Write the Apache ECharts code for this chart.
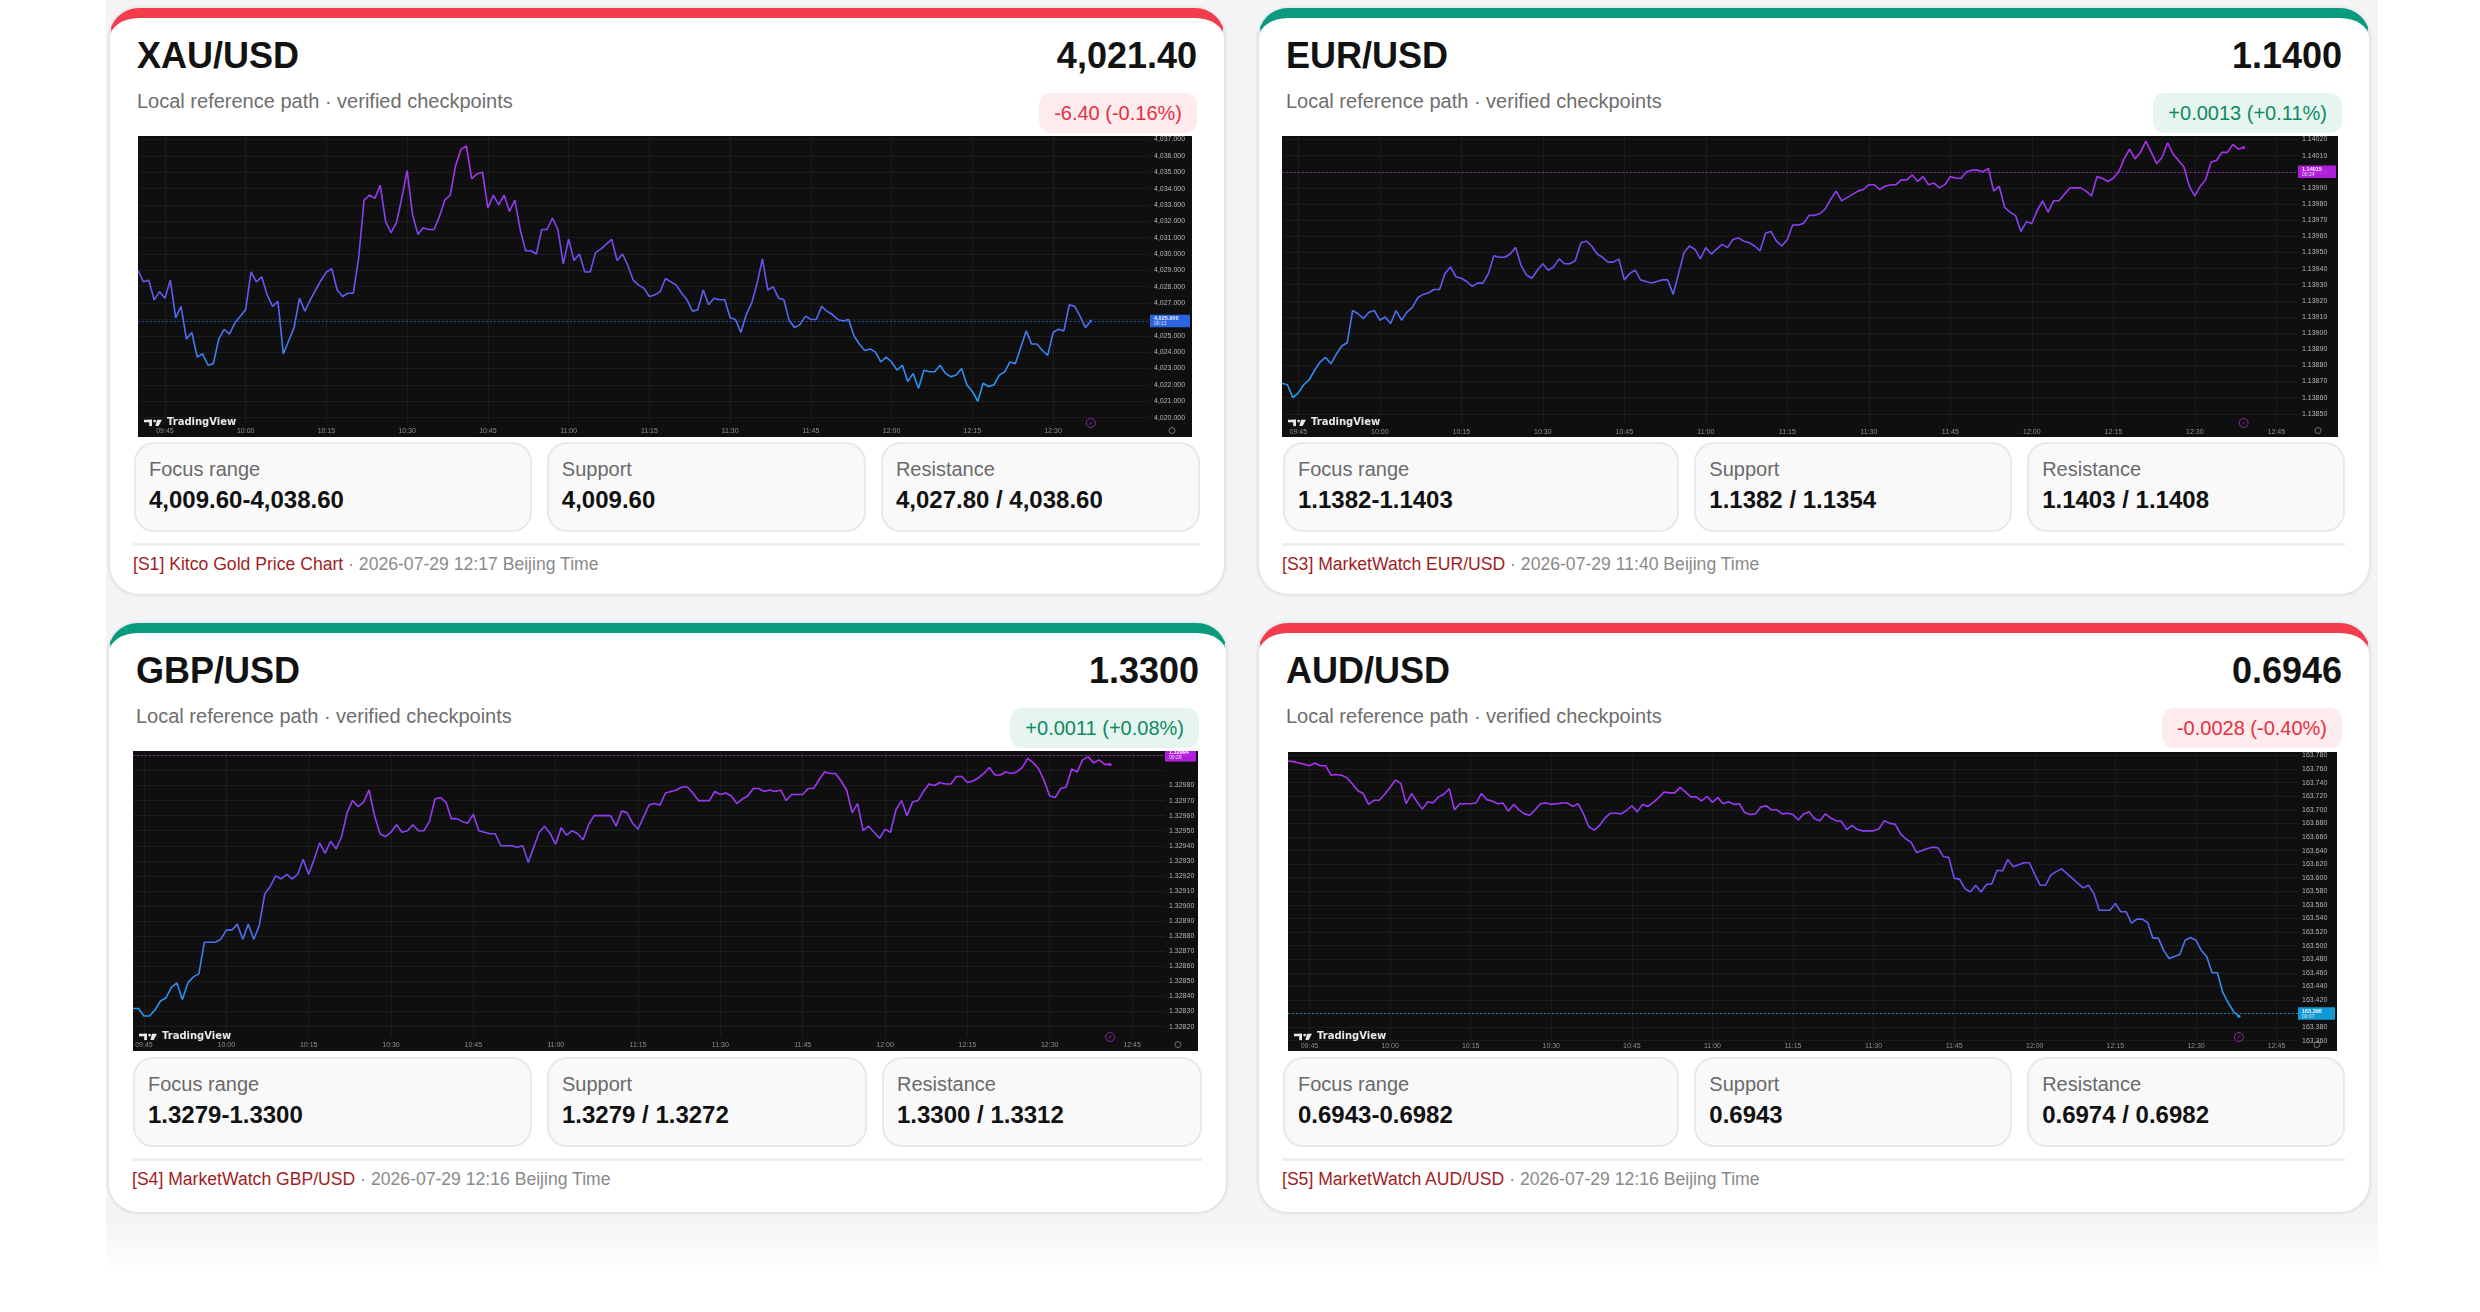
<!DOCTYPE html>
<html>
<head>
<meta charset="utf-8">
<script src="https://cdn.jsdelivr.net/npm/echarts@6/dist/echarts.min.js"></script>
<style>
html,body{margin:0;padding:0;width:2480px;height:1312px;background:#fff;overflow:hidden;font-family:"Liberation Sans",Arial,Helvetica,sans-serif;}
.abs{position:absolute;white-space:nowrap;}
.wrap{position:absolute;left:106px;top:0;width:2272px;height:1276px;background:linear-gradient(to bottom,#f4f4f5 0px,#f4f4f5 1218px,#ffffff 1276px);}
.card{position:absolute;box-sizing:border-box;background:#fff;border:1px solid #dfe2e6;border-top:10px solid #000;border-radius:30px;box-shadow:0 0 0 2px #e9ebee;}
.title{font-size:36px;line-height:36px;font-weight:700;color:#121212;}
.sub{font-size:20px;line-height:20px;color:#6e6e6e;}
.badge{font-size:20px;line-height:40px;height:40px;padding:0 15px;border-radius:12px;}
.badge.up{background:#e6f5ef;color:#0e8a62;}
.badge.down{background:#fdebed;color:#e5313f;}
.stats{position:absolute;display:flex;gap:15px;height:90px;}
.box{box-sizing:border-box;position:relative;height:90px;background:#f9f9fa;border:2px solid #e8e9ec;border-radius:20px;}
.box .lab{position:absolute;left:13px;top:15px;font-size:20px;line-height:20px;color:#6a6a6a;white-space:nowrap;}
.box .val{position:absolute;left:13px;top:44px;font-size:24px;line-height:24px;font-weight:700;color:#111;white-space:nowrap;}
.divider{position:absolute;height:3px;background:#ededef;}
.foot{font-size:17.6px;line-height:17.6px;color:#8a8a8a;}
.foot .src{color:#a11d24;}
</style>
</head>
<body>
<div class="wrap"></div>
<script>
// ---------------- DATA ----------------
const xauValues = [4029.0,4028.3,4028.4,4027.2,4027.7,4027.3,4028.4,4026.1,4026.8,4024.8,
4025.2,4023.7,4023.9,4023.2,4023.3,4024.8,4025.4,4025.1,4025.8,4026.2,
4026.6,4028.9,4028.3,4028.6,4027.5,4026.8,4027.1,4023.9,4024.7,4025.5,
4027.3,4026.5,4027.2,4027.8,4028.4,4028.9,4029.1,4027.8,4027.4,4027.6,
4027.6,4029.8,4033.3,4033.6,4033.4,4034.2,4032.0,4031.3,4031.9,4033.4,
4035.1,4032.4,4031.2,4031.6,4031.5,4031.5,4032.3,4033.3,4033.6,4035.4,
4036.4,4036.6,4034.6,4034.9,4035.0,4032.8,4033.6,4033.0,4033.6,4032.6,
4033.3,4031.5,4030.2,4030.2,4030.0,4031.5,4031.5,4032.2,4031.5,4029.4,
4030.9,4029.6,4030.0,4028.9,4028.9,4030.1,4030.3,4030.6,4030.9,4029.6,
4030.0,4029.3,4028.4,4028.1,4027.9,4027.4,4027.5,4027.7,4028.5,
4028.3,4028.1,4027.6,4027.2,4026.5,4026.6,4027.8,4026.9,4027.3,4027.2,4027.2,
4026.1,4026.0,4025.2,4026.3,4027.0,4028.2,4029.7,4027.8,4028.0,4027.3,
4027.2,4025.9,4025.5,4025.7,4026.2,4026.0,4026.0,4026.8,4026.5,4026.3,
4026.0,4025.9,4026.0,4025.0,4024.5,4024.1,4024.2,4024.0,4023.4,4023.7,
4023.4,4022.9,4023.2,4022.2,4022.7,4021.8,4022.9,4022.8,4022.8,4023.2,
4022.7,4022.5,4022.6,4023.0,4022.0,4021.6,4021.0,4022.1,4021.9,4022.0,
4022.6,4022.8,4023.4,4023.3,4024.3,4025.3,4024.5,4024.5,4024.1,4023.8,
4025.2,4025.4,4025.3,4026.9,4026.8,4026.2,4025.5,4025.9];

const eurValues = [1.13869,1.13868,1.13860,1.13863,1.13868,1.13871,1.13877,1.13882,1.13885,1.13881,
1.13887,1.13892,1.13894,1.13914,1.13912,1.13909,1.13913,1.13914,1.13908,1.13910,
1.13906,1.13914,1.13908,1.13913,1.13916,1.13922,1.13924,1.13925,1.13927,1.13927,
1.13937,1.13941,1.13935,1.13934,1.13932,1.13929,1.13931,1.13931,1.13937,1.13948,
1.13947,1.13947,1.13949,1.13953,1.13942,1.13936,1.13934,1.13939,1.13943,1.13939,
1.13941,1.13946,1.13943,1.13943,1.13945,1.13956,1.13957,1.13954,1.13949,1.13947,
1.13944,1.13944,1.13946,1.13933,1.13937,1.13939,1.13933,1.13932,1.13931,1.13932,
1.13933,1.13933,1.13924,1.13937,1.13950,1.13954,1.13952,1.13946,1.13953,1.13949,
1.13952,1.13955,1.13953,1.13958,1.13959,1.13957,1.13956,1.13954,1.13951,1.13962,
1.13963,1.13957,1.13954,1.13958,1.13967,1.13967,1.13968,1.13973,1.13973,1.13974,
1.13977,1.13983,1.13988,1.13982,1.13984,1.13986,1.13988,1.13989,1.13992,1.13992,
1.13989,1.13991,1.13992,1.13992,1.13995,1.13995,1.13998,1.13994,1.13997,1.13992,
1.13993,1.13990,1.13992,1.13997,1.13996,1.13996,1.14000,1.14001,1.14001,1.14000,
1.14002,1.13988,1.13991,1.13978,1.13975,1.13973,1.13963,1.13969,1.13968,1.13976,
1.13982,1.13975,1.13982,1.13982,1.13986,1.13990,1.13990,1.13990,1.13988,1.13985,
1.13997,1.13996,1.13994,1.13996,1.14000,1.14008,1.14014,1.14008,1.14012,1.14019,
1.14012,1.14005,1.14009,1.14018,1.14011,1.14007,1.14003,1.13991,1.13985,1.13991,
1.13995,1.14006,1.14007,1.14012,1.14012,1.14017,1.14014,1.14015];

const gbpValues = [1.32832,1.32832,1.32827,1.32827,1.32831,1.32837,1.32839,1.32846,1.32849,1.32838,
1.32849,1.32853,1.32855,1.32876,1.32876,1.32876,1.32878,1.32884,1.32884,1.32888,
1.32878,1.32888,1.32878,1.32887,1.32908,1.32913,1.32920,1.32918,1.32921,1.32918,
1.32921,1.32931,1.32921,1.32931,1.32942,1.32935,1.32943,1.32938,1.32946,1.32962,
1.32970,1.32966,1.32969,1.32977,1.32960,1.32948,1.32946,1.32949,1.32954,1.32949,
1.32950,1.32954,1.32950,1.32950,1.32956,1.32971,1.32972,1.32969,1.32958,1.32958,
1.32956,1.32955,1.32961,1.32950,1.32949,1.32948,1.32948,1.32940,1.32940,1.32940,
1.32939,1.32940,1.32929,1.32939,1.32949,1.32953,1.32948,1.32941,1.32952,1.32947,
1.32950,1.32948,1.32944,1.32954,1.32960,1.32960,1.32960,1.32960,1.32953,1.32963,
1.32962,1.32955,1.32951,1.32959,1.32967,1.32968,1.32967,1.32975,1.32976,1.32977,
1.32979,1.32979,1.32975,1.32970,1.32970,1.32970,1.32976,1.32974,1.32975,1.32973,
1.32968,1.32971,1.32973,1.32978,1.32978,1.32976,1.32977,1.32976,1.32977,1.32970,
1.32974,1.32974,1.32974,1.32978,1.32978,1.32984,1.32989,1.32988,1.32988,1.32983,
1.32977,1.32962,1.32968,1.32950,1.32953,1.32949,1.32945,1.32951,1.32949,1.32964,
1.32970,1.32960,1.32969,1.32970,1.32976,1.32981,1.32980,1.32982,1.32981,1.32981,
1.32986,1.32986,1.32982,1.32983,1.32985,1.32988,1.32992,1.32987,1.32987,1.32989,
1.32988,1.32989,1.32992,1.32998,1.32995,1.32991,1.32983,1.32973,1.32972,1.32978,
1.32979,1.32991,1.32989,1.32997,1.32999,1.32995,1.32997,1.32994,1.32994];

const audValues = [163.772,163.771,163.769,163.767,163.765,163.769,163.765,163.765,163.751,163.752,
163.751,163.747,163.738,163.728,163.724,163.708,163.714,163.714,163.723,163.733,
163.744,163.739,163.709,163.724,163.712,163.701,163.712,163.710,163.719,163.723,
163.731,163.700,163.709,163.709,163.709,163.710,163.724,163.715,163.713,163.709,
163.710,163.698,163.708,163.700,163.694,163.692,163.700,163.709,163.710,163.708,
163.709,163.710,163.710,163.705,163.709,163.694,163.675,163.670,163.677,163.688,
163.695,163.695,163.694,163.699,163.706,163.697,163.708,163.705,163.711,163.718,
163.726,163.725,163.725,163.733,163.726,163.719,163.719,163.713,163.720,163.711,
163.718,163.709,163.712,163.708,163.709,163.696,163.693,163.694,163.704,163.706,
163.700,163.700,163.694,163.695,163.693,163.685,163.694,163.697,163.687,163.684,
163.694,163.688,163.684,163.683,163.671,163.677,163.671,163.669,163.669,163.669,
163.672,163.684,163.680,163.679,163.665,163.657,163.652,163.637,163.640,163.643,
163.645,163.644,163.631,163.630,163.599,163.598,163.584,163.579,163.589,163.579,
163.590,163.591,163.611,163.610,163.627,163.616,163.619,163.622,163.622,163.605,
163.589,163.589,163.604,163.609,163.613,163.606,163.599,163.592,163.585,163.589,
163.577,163.552,163.552,163.552,163.562,163.550,163.550,163.533,163.539,163.539,
163.534,163.511,163.511,163.493,163.481,163.484,163.487,163.508,163.512,163.508,
163.493,163.484,163.460,163.460,163.431,163.416,163.403,163.396];

const xauTimeTicks = ['09:45','10:00','10:15','10:30','10:45','11:00','11:15','11:30','11:45','12:00','12:15','12:30'];
const fxTimeTicks = ['09:45','10:00','10:15','10:30','10:45','11:00','11:15','11:30','11:45','12:00','12:15','12:30','12:45'];

const xauGridTicks = [4020,4021,4022,4023,4024,4025,4026,4027,4028,4029,4030,4031,4032,4033,4034,4035,4036,4037];
const xauPriceLabels = [4020,4021,4022,4023,4024,4025,4027,4028,4029,4030,4031,4032,4033,4034,4035,4036,4037];
const eurGridTicks = [1.1385,1.1386,1.1387,1.1388,1.1389,1.1390,1.1391,1.1392,1.1393,1.1394,1.1395,1.1396,1.1397,1.1398,1.1399,1.1400,1.1401,1.1402];
const eurPriceLabels = eurGridTicks;
const gbpGridTicks = [1.3282,1.3283,1.3284,1.3285,1.3286,1.3287,1.3288,1.3289,1.3290,1.3291,1.3292,1.3293,1.3294,1.3295,1.3296,1.3297,1.3298,1.3299,1.3300];
const gbpPriceLabels = [1.3282,1.3283,1.3284,1.3285,1.3286,1.3287,1.3288,1.3289,1.3290,1.3291,1.3292,1.3293,1.3294,1.3295,1.3296,1.3297,1.3298,1.3300];
const audGridTicks = [163.36,163.38,163.40,163.42,163.44,163.46,163.48,163.50,163.52,163.54,163.56,163.58,163.60,163.62,163.64,163.66,163.68,163.70,163.72,163.74,163.76,163.78];
const audPriceLabels = [163.36,163.38,163.42,163.44,163.46,163.48,163.50,163.52,163.54,163.56,163.58,163.60,163.62,163.64,163.66,163.68,163.70,163.72,163.74,163.76,163.78];

const cardTitles = ['XAU/USD','EUR/USD','GBP/USD','AUD/USD'];
const cardPrices = ['4,021.40','1.1400','1.3300','0.6946'];
const cardChanges = ['-6.40 (-0.16%)','+0.0013 (+0.11%)','+0.0011 (+0.08%)','-0.0028 (-0.40%)'];
const cardUp = [false,true,true,false];
const cardStats = [
  [['Focus range','4,009.60-4,038.60'],['Support','4,009.60'],['Resistance','4,027.80 / 4,038.60']],
  [['Focus range','1.1382-1.1403'],['Support','1.1382 / 1.1354'],['Resistance','1.1403 / 1.1408']],
  [['Focus range','1.3279-1.3300'],['Support','1.3279 / 1.3272'],['Resistance','1.3300 / 1.3312']],
  [['Focus range','0.6943-0.6982'],['Support','0.6943'],['Resistance','0.6974 / 0.6982']]
];
const cardSources = ['[S1] Kitco Gold Price Chart','[S3] MarketWatch EUR/USD','[S4] MarketWatch GBP/USD','[S5] MarketWatch AUD/USD'];
const cardTimes = ['2026-07-29 12:17 Beijing Time','2026-07-29 11:40 Beijing Time','2026-07-29 12:16 Beijing Time','2026-07-29 12:16 Beijing Time'];
const subtitle = 'Local reference path \u00b7 verified checkpoints';

// ---------------- LAYOUT ----------------
const cardBoxes = [
  {x:107, y:6, w:1120, h:591},
  {x:1256, y:6, w:1116, h:591},
  {x:106, y:621, w:1123, h:594},
  {x:1256, y:621, w:1116, h:594}
];
const chartCfgs = [
  {x:138, y:136, w:1054, h:301, gridRight:42, gridBottom:14, start:'09:40', end:'12:48', values:xauValues,
   yMin:4019.67, yMax:4037.21, gridTicks:xauGridTicks, labelTicks:xauPriceLabels, timeTicks:xauTimeTicks,
   fmt:v=>v.toLocaleString('en-US',{minimumFractionDigits:3,maximumFractionDigits:3}),
   tagColor:'#2f6ef5', tagPrice:'4,025.900', tagTime:'00:13', labelY:294.7},
  {x:1282, y:136, w:1056, h:301, gridRight:40, gridBottom:14, start:'09:42', end:'12:49', values:eurValues,
   yMin:1.138443, yMax:1.140214, gridTicks:eurGridTicks, labelTicks:eurPriceLabels, timeTicks:fxTimeTicks,
   fmt:v=>v.toFixed(5), tagColor:'#c01ff0', tagPrice:'1.14015', tagTime:'00:24', labelY:295.7},
  {x:133, y:751, w:1065, h:300, gridRight:33, gridBottom:14, start:'09:43', end:'12:51', values:gbpValues,
   yMin:1.328131, yMax:1.330029, gridTicks:gbpGridTicks, labelTicks:gbpPriceLabels, timeTicks:fxTimeTicks,
   fmt:v=>v.toFixed(5), tagColor:'#c01ff0', tagPrice:'1.32994', tagTime:'00:29', labelY:294.3},
  {x:1288, y:752, w:1049, h:299, gridRight:39, gridBottom:8, start:'09:41', end:'12:49', values:audValues,
   yMin:163.3566, yMax:163.7815, gridTicks:audGridTicks, labelTicks:audPriceLabels, timeTicks:fxTimeTicks,
   fmt:v=>v.toFixed(3), tagColor:'#12a8e8', tagPrice:'163.396', tagTime:'00:07', labelY:294.3}
];

function el(cls, css, html){
  const d = document.createElement('div');
  if (cls) d.className = cls;
  d.style.cssText = css;
  if (html !== undefined) d.innerHTML = html;
  document.body.appendChild(d);
  return d;
}

cardBoxes.forEach((b, i) => {
  const bar = cardUp[i] ? '#0a9b7e' : '#f33d4c';
  el('card', `left:${b.x+2}px;top:${b.y+2}px;width:${b.w-4}px;height:${b.h-4}px;border-top-color:${bar};`);
  el('abs title', `left:${b.x+30}px;top:${b.y+32}px;`, cardTitles[i]);
  el('abs title', `right:${2480-(b.x+b.w-30)}px;top:${b.y+32}px;text-align:right;`, cardPrices[i]);
  el('abs sub', `left:${b.x+30}px;top:${b.y+85}px;`, subtitle);
  el('abs badge ' + (cardUp[i] ? 'up' : 'down'), `right:${2480-(b.x+b.w-30)}px;top:${b.y+87}px;`, cardChanges[i]);
  const st = el('stats', `left:${b.x+27}px;width:${b.w-54}px;top:${b.y+436}px;`);
  cardStats[i].forEach((s, k) => {
    const bx = document.createElement('div');
    bx.className = 'box';
    bx.style.flex = k === 0 ? '1.25' : '1';
    bx.innerHTML = `<div class="lab">${s[0]}</div><div class="val">${s[1]}</div>`;
    st.appendChild(bx);
  });
  el('divider', `left:${b.x+26}px;width:${b.w-53}px;top:${b.y+537}px;`);
  el('abs foot', `left:${b.x+26}px;top:${b.y+550}px;`, `<span class="src">${cardSources[i]}</span> \u00b7 ${cardTimes[i]}`);
});

function minuteRange(start, end){
  const out = [];
  const [sh, sm] = start.split(':').map(Number);
  const [eh, em] = end.split(':').map(Number);
  for (let t = sh*60+sm; t <= eh*60+em; t++){
    out.push(String(Math.floor(t/60)).padStart(2,'0') + ':' + String(t%60).padStart(2,'0'));
  }
  return out;
}

function logoGraphic(x, y){
  return {
    type:'group', left:x, top:y, z:50,
    children:[
      {type:'rect', shape:{x:0,y:0,width:8,height:2.6}, style:{fill:'#e8e8e8'}},
      {type:'rect', shape:{x:5.2,y:0,width:2.8,height:6.4}, style:{fill:'#e8e8e8'}},
      {type:'circle', shape:{cx:10.6,cy:1.4,r:1.4}, style:{fill:'#e8e8e8'}},
      {type:'polygon', shape:{points:[[13,0],[18,0],[14.6,6.4],[11.4,6.4]]}, style:{fill:'#e8e8e8'}},
      {type:'text', x:23, y:-2.2, style:{text:'TradingView', fill:'#e8e8e8', font:'bold 10px "DejaVu Sans"'}}
    ]
  };
}

chartCfgs.forEach(cfg => {
  const d = el('', `position:absolute;left:${cfg.x}px;top:${cfg.y}px;width:${cfg.w}px;height:${cfg.h}px;background:#0f0f0f;`);
  const chart = echarts.init(d, null, {renderer:'canvas'});
  const cats = minuteRange(cfg.start, cfg.end);
  const showTime = (idx, val) => cfg.timeTicks.indexOf(val) >= 0;
  const lastIdx = cfg.values.length - 1;
  const last = cfg.values[lastIdx];
  chart.setOption({
    animation:false,
    backgroundColor:'#0f0f0f',
    grid:{left:0, right:cfg.gridRight, top:0, bottom:cfg.gridBottom},
    xAxis:{
      type:'category', data:cats, boundaryGap:false,
      axisLine:{show:false}, axisTick:{show:false},
      axisLabel:{show:false},
      splitLine:{show:true, interval:showTime, lineStyle:{color:'#1b1b1d', width:1}}
    },
    yAxis:{
      type:'value', position:'right', min:cfg.yMin, max:cfg.yMax, scale:true,
      axisLine:{show:false},
      axisTick:{show:false, customValues:cfg.gridTicks},
      axisLabel:{customValues:cfg.labelTicks, formatter:cfg.fmt, fontSize:7, color:'#b3b5bc', margin:4, fontFamily:'Liberation Sans'},
      splitLine:{show:true, lineStyle:{color:'#1b1b1d', width:1}}
    },
    series:[{
      type:'line', data:cfg.values, symbol:'none', clip:false,
      lineStyle:{width:1.6, color:new echarts.graphic.LinearGradient(0,0,0,1,[
        {offset:0, color:'#b22cf2'}, {offset:0.5, color:'#6a50ef'}, {offset:1, color:'#1e9ff0'}])},
      markLine:{
        silent:true, symbol:'none', animation:false,
        data:[{yAxis:last}],
        lineStyle:{type:[1.5,2.5], color:cfg.tagColor, width:1, opacity:0.9},
        label:{
          show:true, position:'end', distance:0,
          formatter:'{a|' + cfg.tagPrice + '}\n{b|' + cfg.tagTime + '}',
          backgroundColor:cfg.tagColor, padding:[1,3,1,4], width:cfg.gridRight - 9,
          rich:{a:{fontSize:5.5, lineHeight:5.5, color:'#fff', fontWeight:'bold'}, b:{fontSize:5, lineHeight:5, color:'#f0f0f0'}}
        }
      },
      markPoint:{
        silent:true, animation:false, symbol:'circle', symbolSize:3,
        data:[{coord:[lastIdx, last]}],
        itemStyle:{color:cfg.tagColor}, label:{show:false}
      }
    }]
  });
  const plotBottom = cfg.h - cfg.gridBottom;
  const pEnd = chart.convertToPixel({gridIndex:0}, [lastIdx, cfg.yMin]);
  const ringY = cfg.gridBottom < 10 ? plotBottom - 6 : plotBottom;
  const timeTexts = cfg.timeTicks.map(t => {
    const p = chart.convertToPixel({gridIndex:0}, [cats.indexOf(t), cfg.yMin]);
    return {type:'text', x:p[0], y:cfg.labelY, z:40,
      style:{text:t, fill:'#8c8f98', font:'7px "Liberation Sans"', textAlign:'center', textVerticalAlign:'middle'}};
  });
  chart.setOption({
    graphic:[
      logoGraphic(6, cfg.h - 19.5),
      {type:'circle', shape:{cx:pEnd[0], cy:ringY, r:4.5}, style:{fill:'none', stroke:'#8e24aa', lineWidth:1}},
      {type:'line', shape:{x1:pEnd[0]-1.5, y1:ringY+1.5, x2:pEnd[0]+1.5, y2:ringY-1.5}, style:{stroke:'#8e24aa', lineWidth:1}},
      {type:'circle', shape:{cx:cfg.w - 20, cy:cfg.h - 6.5, r:3}, style:{fill:'none', stroke:'#8a8a8a', lineWidth:0.8}}
    ].concat(timeTexts)
  });
});
</script>
</body>
</html>
